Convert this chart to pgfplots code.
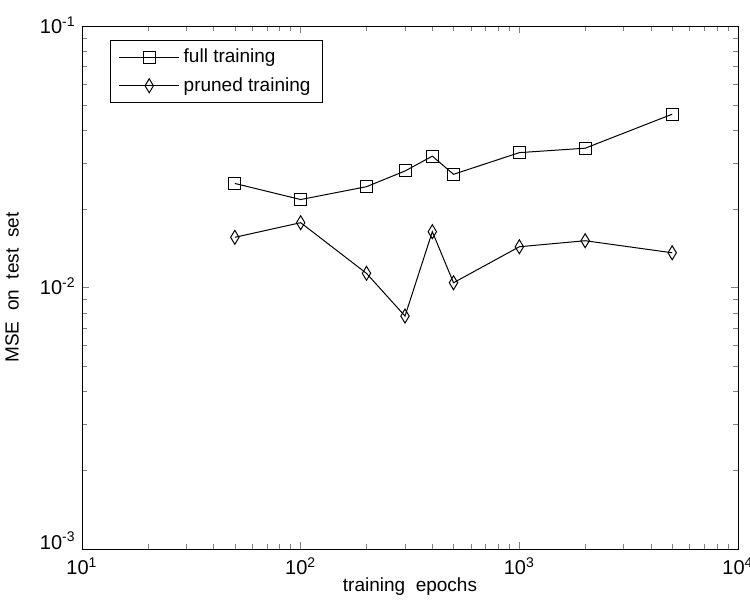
\documentclass[border=0pt]{standalone}
\usepackage{pgfplots}
\pgfplotsset{compat=1.18}
\usepackage{fontspec}
\setmainfont{Liberation Sans}

\begin{document}
\begin{tikzpicture}
\begin{axis}[
    name=ax,
    scale only axis,
    width=328pt, height=261.5pt,
    xmode=log, ymode=log,
    xmin=10, xmax=10000,
    ymin=0.001, ymax=0.1,
    xtick={10,100,1000,10000},
    xticklabels={10\textsuperscript{1},10\textsuperscript{2},10\textsuperscript{3},10\textsuperscript{4}},
    ytick={0.001,0.01,0.1},
    yticklabels={\raisebox{3.7pt}{10\textsuperscript{-3}},10\textsuperscript{-2},10\textsuperscript{-1}},
    font=\fontsize{9.5}{11.4}\selectfont,
    tick label style={font=\fontsize{10}{12}\selectfont},
    xticklabel style={anchor=north, inner sep=0pt, yshift=-4pt},
    yticklabel style={anchor=base east, inner sep=0pt, xshift=-3pt, yshift=-3.7pt},
    xlabel={training\ \ epochs},
    ylabel={MSE\ \ on\ \ test\ \ set},
    every axis x label/.style={at={(axis description cs:0.5,0)}, yshift=-19pt, anchor=center},
    every axis y label/.style={at={(axis description cs:0,0.5)}, xshift=-35pt, rotate=90, anchor=center},
    major tick length=3.5pt,
    minor tick length=2.5pt,
    tick align=inside,
    every axis plot/.append style={black, line width=0.5pt},
    legend cell align=left,
    legend style={at={(0.043,0.973)}, anchor=north west, draw=black,
        line width=0.5pt, inner xsep=4pt, inner ysep=2pt, row sep=2pt},
    legend image code/.code={
        \draw[mark repeat=2, mark phase=2] plot coordinates {(0pt,0pt)(15pt,0pt)(30pt,0pt)};
    },
]

\addplot[mark=square, mark size=3pt]
    coordinates {
    (50,0.0250)(100,0.0217)(200,0.0243)(300,0.0279)(400,0.0318)
    (500,0.0271)(1000,0.0328)(2000,0.0341)(5000,0.0460)
    };
    \addlegendentry{full training}

\addplot[mark=diamond, mark size=3.5pt, mark options={xscale=0.8}]
    coordinates {
    (50,0.01556)(100,0.0177)(200,0.01133)(300,0.00778)(400,0.01635)
    (500,0.01043)(1000,0.01432)(2000,0.0151)(5000,0.01358)
    };
    \addlegendentry{pruned training}
\end{axis}
\pgfresetboundingbox
\path ([shift={(-41pt,-26.5pt)}]ax.south west) rectangle ([shift={(6pt,13pt)}]ax.north east);
\end{tikzpicture}
\end{document}
